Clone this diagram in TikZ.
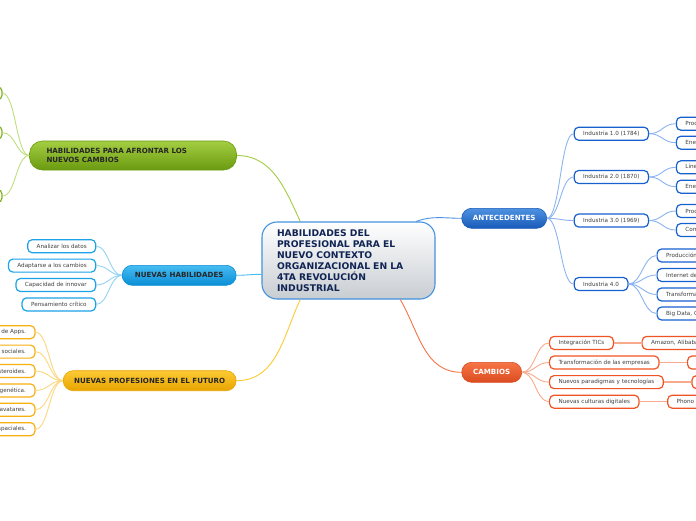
\documentclass[tikz,border=0pt]{standalone}
\usepackage{fontspec}
\setmainfont{DejaVu Sans}
\usetikzlibrary{positioning}
\definecolor{rootedge}{RGB}{66,146,224}
\definecolor{rootlow}{RGB}{200,205,210}
\definecolor{roottext}{RGB}{16,36,84}
\definecolor{antehigh}{RGB}{78,146,226}
\definecolor{antelow}{RGB}{24,90,184}
\definecolor{anteedge}{RGB}{22,96,208}
\definecolor{antelink}{RGB}{140,180,240}
\definecolor{cambhigh}{RGB}{246,116,70}
\definecolor{camblow}{RGB}{218,76,32}
\definecolor{cambedge}{RGB}{240,84,36}
\definecolor{camblink}{RGB}{248,170,140}
\definecolor{habhigh}{RGB}{70,188,242}
\definecolor{hablow}{RGB}{10,142,214}
\definecolor{habedge}{RGB}{28,162,232}
\definecolor{hablink}{RGB}{146,210,242}
\definecolor{profhigh}{RGB}{252,202,52}
\definecolor{proflow}{RGB}{232,164,0}
\definecolor{profedge}{RGB}{248,176,16}
\definecolor{proflink}{RGB}{252,216,128}
\definecolor{afrhigh}{RGB}{164,206,66}
\definecolor{afrlow}{RGB}{106,154,16}
\definecolor{afredge}{RGB}{128,176,32}
\definecolor{afrlink}{RGB}{192,222,128}
\definecolor{subtext}{RGB}{64,64,64}

\begin{document}
\begin{tikzpicture}[x=1pt, y=-1pt,
  root/.style={draw=rootedge, line width=1.1pt, rounded corners=15pt, top color=white, bottom color=rootlow,
               text=roottext, font=\bfseries\fontsize{9.2}{11}\selectfont, align=left, text width=143pt,
               inner xsep=15pt, inner ysep=0pt, minimum height=77pt},
  topic/.style={line width=0.6pt, rounded corners=10pt, font=\bfseries\fontsize{7.1}{9}\selectfont,
                minimum height=20pt, inner sep=0pt},
  sub/.style={draw, fill=white, rounded corners=4.5pt, line width=1.2pt, text=subtext,
              font=\fontsize{5.65}{6.6}\selectfont, minimum height=13pt, inner xsep=9pt, inner ysep=0pt},
  link/.style={line width=0.9pt}
]
\useasboundingbox (0,0) rectangle (696,520);
\clip (0,0) rectangle (696,520);
\fill[white] (0,0) rectangle (696,520);

\node[root] (root) at (348.5,260.5) {HABILIDADES DEL\\PROFESIONAL PARA EL\\NUEVO CONTEXTO\\ORGANIZACIONAL EN LA\\4TA REVOLUCIÓN\\INDUSTRIAL};

\node[topic, draw=antelow, top color=antehigh, bottom color=antelow, text=white, minimum width=85pt] (ante) at (504.2,218.3) {ANTECEDENTES};
\node[topic, draw=camblow, top color=cambhigh, bottom color=camblow, text=white, minimum width=60pt] (camb) at (491.7,372.3) {CAMBIOS};
\node[topic, draw=hablow, top color=habhigh, bottom color=hablow, text=black!85, minimum width=114pt] (hab) at (179.2,275.3) {NUEVAS HABILIDADES};
\node[topic, draw=proflow, top color=profhigh, bottom color=proflow, text=black!85, minimum width=173pt] (prof) at (149.7,380.7) {NUEVAS PROFESIONES EN EL FUTURO};
\node[topic, draw=afrlow, top color=afrhigh, bottom color=afrlow, text=black!85, rounded corners=13pt,
      minimum height=29pt, text width=173pt, inner xsep=17pt, align=left] (afr) at (133,155.5) {HABILIDADES PARA AFRONTAR LOS\\NUEVOS CAMBIOS};

\draw[link, afrhigh] (afr.east) to[out=0, in=115] (root.141.6);
\draw[link, habhigh] (hab.east) to[out=0, in=180] (root.189);
\draw[link, profhigh] (prof.east) to[out=0, in=245] (root.219);
\draw[link, antehigh] (root.30) to[out=20, in=180] (ante.west);
\draw[link, cambhigh] (root.323) to[out=-60, in=180] (camb.west);

\node[sub, draw=anteedge, right=26.6pt of ante, yshift=84.6pt] (i1) {Industria 1.0 (1784)};
\node[sub, draw=anteedge, right=26.6pt of ante, yshift=41.3pt] (i2) {Industria 2.0 (1870)};
\node[sub, draw=anteedge, right=26.6pt of ante, yshift=-2.2pt] (i3) {Industria 3.0 (1969)};
\node[sub, draw=anteedge, right=26.6pt of ante, yshift=-65.7pt] (i4) {Industria 4.0};

\node[sub, draw=anteedge, right=26.7pt of i1, yshift=10pt] (g11) {Producción mecánica};
\node[sub, draw=anteedge, right=26.7pt of i1, yshift=-9pt] (g12) {Energía de vapor};
\node[sub, draw=anteedge, right=26.7pt of i2, yshift=9.7pt] (g21) {Línea de montaje};
\node[sub, draw=anteedge, right=26.7pt of i2, yshift=-9.7pt] (g22) {Energía eléctrica};
\node[sub, draw=anteedge, right=26.7pt of i3, yshift=9.5pt] (g31) {Producción automatizada};
\node[sub, draw=anteedge, right=26.7pt of i3, yshift=-9.5pt] (g32) {Computadoras y electrónica};
\node[sub, draw=anteedge, right=28pt of i4, yshift=28.5pt] (g41) {Producción inteligente};
\node[sub, draw=anteedge, right=28pt of i4, yshift=9pt] (g42) {Internet de las cosas};
\node[sub, draw=anteedge, right=28pt of i4, yshift=-10.5pt] (g43) {Transformación digital};
\node[sub, draw=anteedge, right=28pt of i4, yshift=-29.5pt] (g44) {Big Data, Cloud Computing};

\foreach \k in {i1,i2,i3,i4}
  \draw[link, antelink] (ante.east) .. controls +(13,0) and +(-13,0) .. (\k.west);
\foreach \p/\k in {i1/g11,i1/g12,i2/g21,i2/g22,i3/g31,i3/g32,i4/g41,i4/g42,i4/g43,i4/g44}
  \draw[link, antelink] (\p.east) .. controls +(13,0) and +(-13,0) .. (\k.west);

\foreach \t/\g [count=\i] in {Integración TICs/{Amazon, Alibaba, Netflix},
                              Transformación de las empresas/Lean,
                              Nuevos paradigmas y tecnologías/IA,
                              Nuevas culturas digitales/Phono Sapiens} {
  \pgfmathsetmacro\dy{(2.5-\i)*19.6}
  \node[sub, draw=cambedge, right=27pt of camb, yshift=\dy pt] (c\i) {\t};
  \node[sub, draw=cambedge, right=27.5pt of c\i] (d\i) {\g};
  \draw[link, camblink] (camb.east) .. controls +(13,0) and +(-13,0) .. (c\i.west);
  \draw[line width=1.5pt, camblink] (c\i.east) -- (d\i.west);
}

\foreach \t [count=\i] in {Analizar los datos, Adaptarse a los cambios, Capacidad de innovar, Pensamiento crítico} {
  \pgfmathsetmacro\dy{(2.5-\i)*19.4}
  \node[sub, draw=habedge, left=25.6pt of hab, yshift=\dy pt] (h\i) {\t};
  \draw[link, hablink] (hab.west) .. controls +(-12,0) and +(12,0) .. (h\i.east);
}

\foreach \t [count=\i] in {Desarrolladores de Apps., Gestores de redes sociales., Mineros de asteroides.,
                           Consejeros de ingeniería genética., Diseñadores de avatares., Guías de viajes espaciales.} {
  \pgfmathsetmacro\dy{(3.5-\i)*19.4}
  \node[sub, draw=profedge, left=27.3pt of prof, yshift=\dy pt] (pr\i) {\t};
  \draw[link, proflink] (prof.west) .. controls +(-13,0) and +(13,0) .. (pr\i.east);
}

\foreach \dy [count=\i] in {62.2,22.8,-40.5} {
  \node[sub, draw=afredge, minimum width=60pt, left=26.6pt of afr, yshift=\dy pt] (a\i) {};
  \draw[link, afrlink] (afr.west) .. controls +(-13,0) and +(13,0) .. (a\i.east);
}
\end{tikzpicture}
\end{document}
